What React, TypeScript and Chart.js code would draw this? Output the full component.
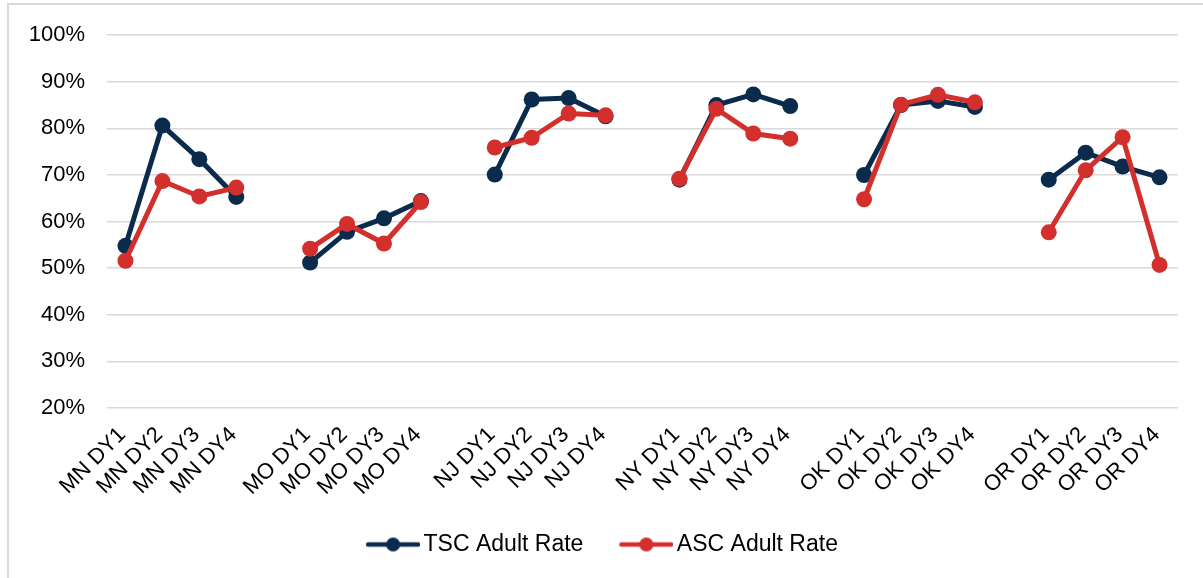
import React, { useEffect, useRef } from 'react';
import { Chart, registerables } from 'chart.js';

Chart.register(...registerables);

const categories = [
  'MN DY1', 'MN DY2', 'MN DY3', 'MN DY4', '',
  'MO DY1', 'MO DY2', 'MO DY3', 'MO DY4', '',
  'NJ DY1', 'NJ DY2', 'NJ DY3', 'NJ DY4', '',
  'NY DY1', 'NY DY2', 'NY DY3', 'NY DY4', '',
  'OK DY1', 'OK DY2', 'OK DY3', 'OK DY4', '',
  'OR DY1', 'OR DY2', 'OR DY3', 'OR DY4',
];

const tscAdultRate = [
  54.8, 80.6, 73.4, 65.3, null,
  51.2, 57.8, 60.7, 64.4, null,
  70.1, 86.2, 86.5, 82.6, null,
  69.0, 85.0, 87.3, 84.8, null,
  70.0, 85.0, 85.9, 84.6, null,
  69.0, 74.8, 71.8, 69.5,
];

const ascAdultRate = [
  51.6, 68.7, 65.4, 67.3, null,
  54.2, 59.5, 55.3, 64.2, null,
  75.9, 78.0, 83.2, 82.8, null,
  69.2, 84.2, 78.9, 77.8, null,
  64.8, 85.1, 87.2, 85.6, null,
  57.7, 71.0, 78.1, 50.7,
];

const yTicks = [20, 30, 40, 50, 60, 70, 80, 90, 100];

const NAVY = '#0B2B4C';
const RED = '#D22F2D';
const FONT = "'Liberation Sans', Arial, sans-serif";

function makeIcon(color: string): HTMLCanvasElement {
  const c = document.createElement('canvas');
  c.width = 88;
  c.height = 16;
  const ctx = c.getContext('2d')!;
  ctx.strokeStyle = color;
  ctx.lineWidth = 4.5;
  ctx.lineCap = 'round';
  ctx.beginPath();
  ctx.moveTo(36, 8);
  ctx.lineTo(86, 8);
  ctx.stroke();
  ctx.fillStyle = color;
  ctx.beginPath();
  ctx.arc(61, 8, 7, 0, Math.PI * 2);
  ctx.fill();
  return c;
}

export default function App() {
  const ref = useRef<HTMLCanvasElement | null>(null);

  useEffect(() => {
    if (!ref.current) return;
    const iconTsc = makeIcon(NAVY);
    const iconAsc = makeIcon(RED);
    const chart = new Chart(ref.current, {
      type: 'line',
      data: {
        labels: categories,
        datasets: [
          {
            label: 'TSC Adult Rate',
            data: tscAdultRate,
            borderColor: NAVY,
            backgroundColor: NAVY,
            borderWidth: 5,
            pointRadius: 8,
            pointBorderWidth: 0,
            pointBackgroundColor: NAVY,
            spanGaps: false,
            order: 2,
          },
          {
            label: 'ASC Adult Rate',
            data: ascAdultRate,
            borderColor: RED,
            backgroundColor: RED,
            borderWidth: 5,
            pointRadius: 8,
            pointBorderWidth: 0,
            pointBackgroundColor: RED,
            spanGaps: false,
            order: 1,
          },
        ],
      },
      options: {
        responsive: false,
        animation: false,
        devicePixelRatio: 1,
        layout: { padding: { top: 33, right: 25, bottom: 12, left: 0 } },
        plugins: {
          tooltip: { enabled: false },
          legend: {
            position: 'bottom',
            labels: {
              usePointStyle: true,
              pointStyleWidth: 72,
              padding: 10,
              color: '#000',
              font: { family: FONT, size: 23 },
              generateLabels: () => [
                { text: 'TSC Adult Rate', pointStyle: iconTsc as any, fillStyle: NAVY, strokeStyle: NAVY, lineWidth: 0, hidden: false, datasetIndex: 0, fontColor: '#000' },
                { text: 'ASC Adult Rate', pointStyle: iconAsc as any, fillStyle: RED, strokeStyle: RED, lineWidth: 0, hidden: false, datasetIndex: 1, fontColor: '#000' },
              ],
            },
          },
        },
        scales: {
          x: {
            type: 'category',
            offset: true,
            grid: { display: false, drawTicks: false },
            border: { display: false },
            ticks: {
              autoSkip: false,
              maxRotation: 45,
              minRotation: 45,
              padding: 14,
              labelOffset: -3,
              color: '#000',
              font: { family: FONT, size: 22 },
            },
            afterFit: (s: any) => { s.height = 115; },
          },
          y: {
            min: yTicks[0],
            max: yTicks[yTicks.length - 1],
            afterBuildTicks: (s: any) => { s.ticks = yTicks.map((v) => ({ value: v })); },
            ticks: {
              padding: 22,
              color: '#000',
              font: { family: FONT, size: 22 },
              callback: (v: any) => v + '%',
            },
            grid: { color: '#d9d9d9', lineWidth: 1.5, drawTicks: false },
            border: { display: false },
            afterFit: (s: any) => { s.width = 107; },
          },
        },
      },
    });
    return () => chart.destroy();
  }, []);

  return (
    <div style={{ position: 'fixed', left: 0, top: 0, width: 1203, height: 578, overflow: 'hidden', background: '#fff' }}>
      <div style={{ position: 'absolute', left: 7, top: 3, width: 1200, height: 580, border: '2px solid #d9d9d9', boxSizing: 'border-box' }} />
      <canvas ref={ref} width={1203} height={578} style={{ position: 'absolute', left: 0, top: 0 }} />
    </div>
  );
}
